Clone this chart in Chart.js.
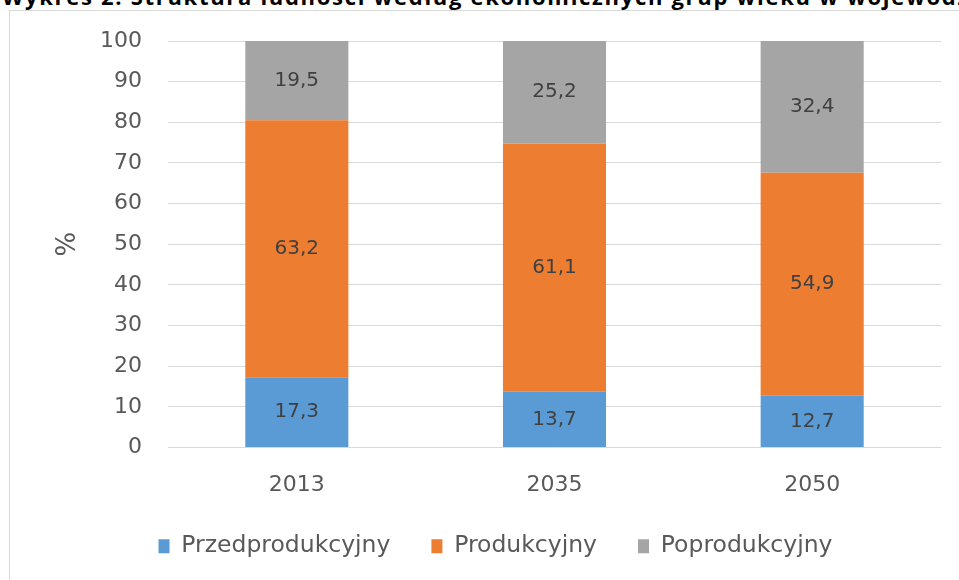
<!DOCTYPE html>
<html>
<head>
  <meta charset="utf-8" />
  <title>Struktura ludności</title>
  <script src="https://cdn.jsdelivr.net/npm/chart.js"></script>
  <style>
    body { margin: 0; background: #fff; }
    #wrap { position: relative; width: 959px; height: 580px; overflow: hidden; }
    #title { position: absolute; left: 2px; top: -15px; white-space: nowrap;
             font: bold 22px "Open Sans", sans-serif; line-height: 22px; letter-spacing: 1.7px; color: #000; }
    #frame { position: absolute; left: 9px; top: 10px; width: 1200px; height: 800px;
             border: 1px solid #d9d9d9; }
    #chart { position: absolute; left: 0; top: 0; }
  </style>
</head>
<body>
<div id="wrap">
  <div id="title">Wykres 2. Struktura ludności według ekonomicznych grup wieku w województwie</div>
  <div id="frame"></div>
  <canvas id="chart" width="959" height="580"></canvas>
</div>
<script>
const years = ['2013', '2035', '2050'];
const seriesNames = ['Przedprodukcyjny', 'Produkcyjny', 'Poprodukcyjny'];
const przed = [17.3, 13.7, 12.7];
const prod = [63.2, 61.1, 54.9];
const poprod = [19.5, 25.2, 32.4];
const colors = ['#5b9bd5', '#ed7d31', '#a5a5a5'];

const FONT = 'DejaVu Sans';

// value labels in the middle of each segment
const segmentLabels = {
  id: 'segmentLabels',
  afterDatasetsDraw(chart) {
    const ctx = chart.ctx;
    ctx.save();
    ctx.font = '20px "' + FONT + '"';
    ctx.fillStyle = '#404040';
    ctx.textAlign = 'center';
    ctx.textBaseline = 'middle';
    chart.data.datasets.forEach((ds, i) => {
      chart.getDatasetMeta(i).data.forEach((bar, j) => {
        const txt = String(ds.data[j]).replace('.', ',');
        ctx.fillText(txt, bar.x, (bar.y + bar.base) / 2);
      });
    });
    ctx.restore();
  }
};

new Chart(document.getElementById('chart').getContext('2d'), {
  type: 'bar',
  data: {
    labels: years,
    datasets: [przed, prod, poprod].map((d, i) => ({
      label: seriesNames[i],
      data: d,
      backgroundColor: colors[i],
      borderWidth: 0,
      categoryPercentage: 1,
      barPercentage: 0.4
    }))
  },
  options: {
    responsive: false,
    animation: false,
    layout: { padding: { left: 50, right: 18, top: 41, bottom: 12 } },
    plugins: {
      tooltip: { enabled: false },
      legend: {
        position: 'bottom',
        labels: {
          boxWidth: 11,
          boxHeight: 14,
          padding: 41,
          color: '#595959',
          font: { family: FONT, size: 23.5 }
        }
      }
    },
    scales: {
      x: {
        stacked: true,
        grid: { display: false },
        border: { display: false },
        ticks: { color: '#595959', padding: 17, font: { family: FONT, size: 22 } },
        afterFit(scale) { scale.height = 46; }
      },
      y: {
        stacked: true,
        min: 0,
        max: 100,
        ticks: { stepSize: 10, color: '#595959', padding: 26, font: { family: FONT, size: 22 } },
        grid: { color: '#d9d9d9', lineWidth: 1, drawTicks: false },
        border: { display: false },
        title: { display: true, text: '%', color: '#595959', padding: { top: 3 }, font: { family: FONT, size: 26 } },
        afterFit(scale) { scale.width = 118; }
      }
    }
  },
  plugins: [segmentLabels]
});
</script>
</body>
</html>
